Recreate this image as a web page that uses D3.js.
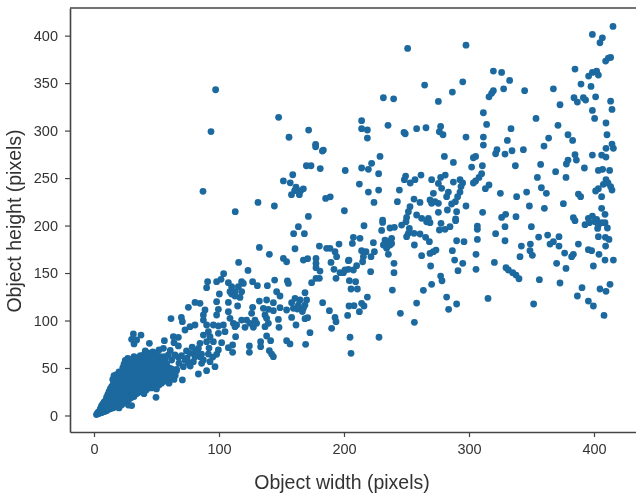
<!DOCTYPE html>
<html><head><meta charset="utf-8">
<script src="https://cdnjs.cloudflare.com/ajax/libs/d3/7.8.5/d3.min.js"></script>
<style>html,body{margin:0;padding:0;background:#fff}svg{display:block}</style>
</head><body><div id="chart"></div>
<script>
const xTicks=[0,100,200,300,400];
const yTicks=[0,50,100,150,200,250,300,350,400];
const xLabel="Object width (pixels)";
const yLabel="Object height (pixels)";
const upperLeft=[[97.3,343],[93.6,299],[87.2,236],[147.7,314],[171.7,300.5],[156,293],[177.3,285.5],[177.3,283],[183.5,279.5],[182.7,278.5],[169.9,263],[173.6,263],[181,260],[201,258],[159,253.5],[151.5,247],[157,245],[161.6,240.5],[167.5,238.7],[165.3,236.7],[160.5,236.7],[158,232.5],[164.3,232.5],[185.3,228.6],[189,230.3],[131.2,224.4],[144.3,220.6],[113,214.6],[200.3,215.6],[171.5,209.6]];
const upperRight=[[415.2,409.7],[398.7,401.3],[406.7,397.7],[404.8,392.5],[250.9,386.5],[297.6,390],[413.3,377],[411.5,376.4],[409.3,373.2],[384.8,364.8],[402.1,362.7],[398.7,361.3],[395.7,357.4],[403.5,358.5],[319.5,362.7],[326.1,361.3],[332.5,352.8],[295,351.4],[264.5,347.9],[389.6,349],[397.6,346.5],[367.5,344],[344.5,342],[327.7,344],[319.5,342],[318.1,339.2],[316,335.6],[286.7,340.6],[231.5,334.6],[239.7,333.5],[275.5,330.7],[401.3,335.6],[384,334.6],[386.7,330],[391.5,334.6],[393.3,332.1],[413.3,331],[372.8,327.2],[414.4,322.3],[398.7,321.2],[311.5,318.8],[400.5,312.8],[353.6,312.8],[214.1,310.4],[409.6,308],[314.1,306.5],[235.2,305.5],[371.2,305.5],[277.3,304.4],[276.3,298.8],[279.2,295.6],[214.1,302],[218.7,300.6],[218.7,292.1],[333.6,302],[258.1,302],[265.6,303],[248,298],[249,296.7],[410.4,295.6],[379.2,295.6],[297.6,293.2],[311.5,293.2],[382.9,289.7],[363.7,292.1],[330.7,289.7],[414.4,285.8],[415.5,281.3],[409.6,281.3],[311.5,284.8],[360,283.7],[322.4,279.9],[321.3,275.6],[328.8,275.3],[334.4,278.8],[343.5,279.9],[228.8,272.8],[280.3,272.8],[305.3,272.8],[303.5,271.4],[398.7,274.2],[406.1,274.2],[409.6,272.1],[384.8,274.6],[385.9,269],[379.2,269],[377.9,264.8],[287.5,266.5],[222.1,265.5],[214.1,260.6],[219.5,259.2],[310.7,263],[357.3,264.4],[302.1,261.6],[337.1,263],[392.3,260.6],[369.3,256.7],[403.5,258.1],[406.9,259.2],[412.5,258.1],[227.7,254.6],[261.6,253.2],[256.8,248.3],[253,244.8],[249.3,252.1],[248.3,248.3],[270.1,248.3],[281,253.2],[277.3,250.7],[275.5,244.4],[278.1,239.2],[287.5,245.8],[292.8,248.3],[294.9,244.8],[293.6,241],[354.7,250.7],[377.6,250.7],[310.1,254.6],[308,250.7],[305.3,246.9],[303.5,244.8],[409.6,248.3],[411.2,244.8],[413.3,241],[414.4,237.4],[407.5,243.4],[403.5,238.8],[401.3,236.4],[406.1,230.4],[212.3,243.7],[219.5,235.3],[227.7,237.4],[244.3,237.4],[224,224.4],[316,242.7],[313.1,238.8],[325.1,233.9],[338.1,230.4],[346.1,235.3],[357.9,239.8],[361.9,233.9],[387.5,233.2],[389.3,230.4],[292.8,235.3],[290.9,230.4],[289.1,225.1],[286.1,222.7],[282.7,216.4],[283.5,235.3],[282.1,230.4],[271.5,233.9],[268.8,226.9],[272.8,225.1],[275.5,223.4],[270.1,223.4],[275.5,213.9],[256,227.9],[260.8,224.4],[242.7,225.1],[252.8,219.8],[251.5,214.6],[297.6,220.6],[348.3,220.6],[360.3,218.1],[375.5,223],[406.1,218.1],[408.8,211.8],[290.1,214.6],[310.9,213.9],[329.3,211.8],[326.1,208.6],[337.6,209.3],[383.5,208.3],[398.7,210],[395.5,207.6],[402.1,206.5],[258.1,211.1],[262.1,207.6],[267.5,207.6],[289.3,206.9],[250.1,208.6],[230.9,205.8]];
const lowerRight=[[216,199.8],[230.9,203.3],[230.1,194.9],[236.8,197.4],[240.3,198.1],[246.1,200.5],[249.6,204],[252.3,197],[251.5,191.8],[250.1,188.3],[256,191.8],[260.8,191.1],[265.3,187.6],[268.3,183],[266.1,204],[268.8,203],[277.6,202.3],[276.3,195.3],[280.8,196],[284.8,198.8],[289.3,205.1],[306.7,199.5],[306.7,196],[328.8,198.8],[321.3,191.4],[349.9,198.8],[355.7,187.9],[362.9,190],[372,188.3],[367.5,183],[364.8,180.5],[372,178.4],[387.5,180.5],[384.8,205.1],[392.8,200.9],[396.3,203],[400.8,204],[403.5,200.5],[406.1,203],[408.8,203],[410.7,197.4],[402.9,197],[403.5,188.3],[409.1,187.6],[412,185.4],[409.3,178.4],[306.7,185.4],[328.8,184],[290.1,184],[296,183],[349.1,180.5],[341.9,178.4],[348.8,173.5],[350.7,168.6],[340.8,167.2],[395.5,174.6],[398.1,173.5],[404,169.7],[376.5,171],[383.5,169.7],[382.1,167.2],[408.8,163.7],[415.5,163.7],[305.6,169.7],[286.7,173.5],[288.5,163.7],[295,160.2],[291.2,152.5],[305.6,153.9],[320.3,161.2],[329.6,155.6],[331.5,153.2],[335,150.4],[337.6,147.9],[340,144],[370.1,160.2],[377.6,154.9],[399.5,157.4],[356.3,143],[372.8,139.5],[412.8,138.1],[404.8,133.2],[409.6,130.7],[390.4,134.6],[386.7,125.8],[395.5,120.5],[399.5,115.3],[408,105.4],[351.7,117.4],[315.2,123.3],[290.1,117.4],[283.7,111.8],[282.1,124.7],[270.1,138.1],[263.5,131.8],[277.3,146.8],[278.4,141.9],[269.3,157.4],[258.1,118.4],[245.1,107.6],[256.3,98.1],[238.7,132.1],[240,160.2],[240,150.4],[235.5,183],[232.8,184.7],[238.1,186.5],[236.8,179.5],[234.1,176],[231.5,179.5],[238.1,181.2],[235.5,169.7],[233.6,183],[256.3,179.5],[262.1,168.3],[268.8,170.7],[271.5,172.5],[273.6,174.2],[223.5,182],[207.5,187.6],[212.8,186.5],[206.7,181.2],[214.1,173.5],[217.6,172.5],[215.5,167.2],[214.9,161.9],[224.3,172.5],[221.6,167.2],[204,163.7],[210.1,157.7],[207.5,153.2],[203.5,153.9],[199.5,150.4],[221.3,151.4],[204.3,142],[209.3,140.9],[205.6,133.2],[210.7,133.2],[218.7,124.7],[214.1,118.1],[216,115.3],[204,115.3],[208,115.6],[212.3,109.3],[202.9,105.4],[204.8,82.4],[228,82.4],[205.6,65.4]];
const midBand=[[163.5,198.8],[159.7,191.4],[168.3,191.4],[196,180.5],[180.3,178.4],[186.1,176],[188.8,176],[132.3,177],[160.8,175.6],[192.8,172.5],[194.1,167.2],[140.3,169.7],[151.5,165.4],[154.1,161.9],[167.5,163.7],[170.9,165.1],[177.6,165.4],[177.6,160.2],[180.8,152.1],[177.6,155.6],[189.6,161.2],[192,153.9],[196.8,150.4],[200.8,153.2],[203.5,163],[115.7,161.2],[123.2,152.8],[103.7,149.3],[177.6,144.4],[174.1,139.8],[180.3,144.4],[193.6,144.4],[144.5,142.6],[154.7,141.6],[155.5,139.1],[90.9,140.9],[90.1,134.6],[98.1,140.9],[101.6,143.4],[107.5,139.8],[110.1,135.6],[118.1,140.9],[119.5,139.1],[115.5,135.6],[108.8,130.3],[112.8,130.3],[118.1,130.3],[116.8,124.3],[110.1,127.9],[112.8,125.8],[126.9,140.9],[130.7,136.7],[138.7,136.7],[146.1,130.3],[148.8,125.8],[100.3,127.9],[98.1,119.8],[99.5,111.8],[98.1,105.8],[107.5,119.1],[114.9,115.3],[132.3,120.5],[138.1,121.6],[143.5,118.8],[126.9,113.9],[126.1,107.6],[148.8,113.5],[135.5,112.8],[139.5,111.8],[143.5,110.4],[136.8,105.8],[168.8,129.3],[170.1,121.6],[164.8,121.6],[160.8,123.3],[158.1,118.8],[154.1,111.1],[159.5,112.8],[163.5,116.3],[167.5,112.8],[168.8,116.3],[162.7,112],[166.7,109.5],[182.9,118.8],[188.3,110.4],[192.8,103.3],[193.6,98.8],[190.1,91.8],[75.5,113.9],[80.8,119.1],[84.8,118.1],[88.8,111.1],[87.5,105.8],[87.5,100.5],[90.1,95.3],[61.6,102],[69.9,103.3],[70.7,98.8],[72.8,90],[76.8,93.5],[80.8,95.3],[107.5,109.3],[108.8,102.3],[111.5,97],[112.8,93.5],[118.1,100.5],[122.1,100.5],[124.8,97],[120.8,92.8],[128.8,100.5],[130.1,97],[127.5,92.8],[114.1,95.3],[138.1,102.3],[139.5,97],[136.8,93.5],[147.5,101.2],[148,92.8],[158.1,103.3],[161.6,95.3],[168.8,101.9],[170.9,103],[172.8,87.2],[169.3,74.9],[154.1,78.8],[156.8,75.3],[138.1,83.7],[141.3,78.8],[133.3,77.7],[133.3,72.5],[124.3,73.2],[124.3,66.5],[140.3,68.2],[142.1,64.7],[143.5,61.9],[113.3,83],[110.9,74.2],[107.5,71.4],[110.9,66.5],[103.5,95.3],[99.5,94.2],[95.5,95.3],[104.8,88.2],[99.5,86.5],[91.5,88.2],[87.5,84.7],[92.8,83],[95.5,77.7],[90.1,77.7],[84.8,76],[83.5,70.7],[80.8,66.1],[102.1,76.7],[99.5,69],[98.1,64.4],[91.5,64.7],[63.5,83],[67.5,82.3],[64,76.7],[67.5,73.2],[56.3,78.8],[31.5,85.8],[37.6,84.7],[30.1,80.2],[34.1,79.5],[32,75.3],[44.3,76],[92.8,56.7],[96.8,51.4],[90.1,47.2],[83.5,43.7],[70.7,37.4],[49.6,19.1],[27.5,11],[30.1,10.4],[55.5,70.7],[59.5,63.7],[64.8,63.7],[67.5,61.2],[62.1,58.4],[58.1,54.2],[72.8,58.4],[76.8,65.4],[80.8,61.9],[84.8,61.9],[75.5,55.6],[71.5,51.4],[79.5,56.7],[86.1,54.9],[66.1,48.6],[87.5,58.4],[82.1,67.2],[78.5,72],[86,64.5],[74,68],[70,63],[52,69],[56,62],[68,55],[62,49],[74.5,60.5],[92,71],[95,61.5],[77,52],[61,68.5]];
const denseCluster=[[2,1],[3,2],[3,3],[4,2],[4,4],[5,3],[5,5],[5,7],[6,3],[6,5],[6,8],[6,10],[7,4],[7,6],[7,9],[7,12],[8,4],[8,7],[8,10],[8,14],[9,5],[9,8],[9,11],[9,15],[10,5],[10,8],[10,12],[10,16],[10,19],[11,6],[11,10],[11,14],[11,18],[11,22],[12,7],[12,11],[12,15],[12,20],[12,25],[13,7],[13,12],[13,17],[13,22],[13,28],[14,8],[14,13],[14,18],[14,24],[14,30],[15,8],[15,14],[15,20],[15,26],[15,32],[15,38],[16,9],[16,15],[16,21],[16,28],[16,35],[16,42],[17,10],[17,16],[17,22],[17,29],[17,36],[17,42],[18,9],[18,15],[18,23],[18,30],[18,37],[18,43],[19,11],[19,17],[19,24],[19,31],[19,38],[20,8],[20,14],[20,20],[20,27],[20,34],[20,41],[20,46],[21,12],[21,18],[21,25],[21,32],[21,39],[21,44],[22,11],[22,17],[22,23],[22,30],[22,37],[22,45],[23,13],[23,20],[23,27],[23,35],[23,42],[23,50],[24,14],[24,22],[24,29],[24,36],[24,44],[24,54],[25,15],[25,21],[25,28],[25,38],[25,47],[25,58],[26,16],[26,24],[26,33],[26,41],[26,50],[27,18],[27,26],[27,35],[27,44],[27,53],[27,60],[28,17],[28,25],[28,32],[28,40],[28,48],[28,56],[29,19],[29,28],[29,37],[29,46],[29,54],[30,19],[30,27],[30,35],[30,43],[30,51],[30,59],[31,22],[31,30],[31,39],[31,48],[32,20],[32,28],[32,36],[32,45],[32,53],[32,62],[33,24],[33,33],[33,42],[33,50],[33,57],[34,23],[34,31],[34,39],[34,47],[34,55],[35,24],[35,34],[35,44],[35,52],[35,60],[36,26],[36,36],[36,41],[36,49],[36,57],[37,25],[37,33],[37,46],[37,54],[37,63],[38,29],[38,38],[38,44],[38,51],[38,60],[39,28],[39,35],[39,42],[39,48],[39,56],[40,23],[40,31],[40,40],[40,52],[40,64],[41,29],[41,37],[41,46],[41,58],[41,68],[42,27],[42,34],[42,43],[42,50],[42,62],[43,32],[43,40],[43,55],[43,66],[44,30],[44,37],[44,47],[44,60],[45,33],[45,43],[45,52],[45,64],[46,29],[46,38],[46,48],[46,57],[47,34],[47,43],[47,53],[47,67],[48,32],[48,40],[48,50],[48,61],[49,36],[49,46],[49,56],[50,28],[50,37],[50,44],[50,52],[50,66],[51,35],[51,48],[51,60],[52,32],[52,41],[52,54],[53,38],[53,47],[53,62],[54,34],[54,44],[54,56],[55,40],[55,50],[56,36],[56,46],[57,42],[57,52],[57,60],[58,38],[58,48],[59,44],[60,34],[60,40],[60,50],[61,46],[62,40],[63,44],[64,38],[65,42],[66,47]];

const allPoints=[].concat(upperLeft,upperRight,lowerRight,midBand,denseCluster);
const W=636,H=497,blue="#1b699f",axisColor="#444";
const x=d3.scaleLinear().domain([-19.2,433.6]).range([70,636]);
const y=d3.scaleLinear().domain([-17.4,429.1]).range([432,8]);
const svg=d3.select("#chart").append("svg").attr("width",W).attr("height",H);
const defs=svg.append("defs");
defs.append("filter").attr("id","soft").attr("x","-2%").attr("y","-2%").attr("width","104%").attr("height","104%").append("feGaussianBlur").attr("stdDeviation",0.5);
const root=svg.append("g").attr("filter","url(#soft)");
root.append("g").selectAll("circle").data(allPoints).join("circle")
  .attr("cx",d=>x(d[0])).attr("cy",d=>y(d[1])).attr("r",3.4).attr("fill",blue);
const ax=root.append("g").attr("transform","translate(0,432)").call(d3.axisBottom(x).tickValues(xTicks).tickSizeInner(5).tickSizeOuter(0).tickPadding(7));
const ay=root.append("g").attr("transform","translate(70,0)").call(d3.axisLeft(y).tickValues(yTicks).tickSizeInner(5).tickSizeOuter(0).tickPadding(7));
[ax,ay].forEach(g=>{
  g.selectAll(".domain").attr("stroke",axisColor).attr("stroke-width",1.6);
  g.selectAll(".tick line").attr("stroke",axisColor).attr("stroke-width",1.2);
  g.selectAll("text").attr("fill","#333").attr("font-family","'Liberation Sans Narrow','Liberation Sans',Arial,sans-serif").attr("font-size",14.5);
});
root.append("line").attr("x1",70).attr("x2",636).attr("y1",8).attr("y2",8).attr("stroke",axisColor).attr("stroke-width",1.6);
root.append("text").attr("x",342).attr("y",489).attr("text-anchor","middle")
  .attr("font-family","'Liberation Sans',Arial,sans-serif").attr("font-size",19.5).attr("fill","#333").text(xLabel);
root.append("text").attr("transform","translate(21,221) rotate(-90)").attr("text-anchor","middle")
  .attr("font-family","'Liberation Sans',Arial,sans-serif").attr("font-size",19.5).attr("fill","#333").text(yLabel);
</script></body></html>
